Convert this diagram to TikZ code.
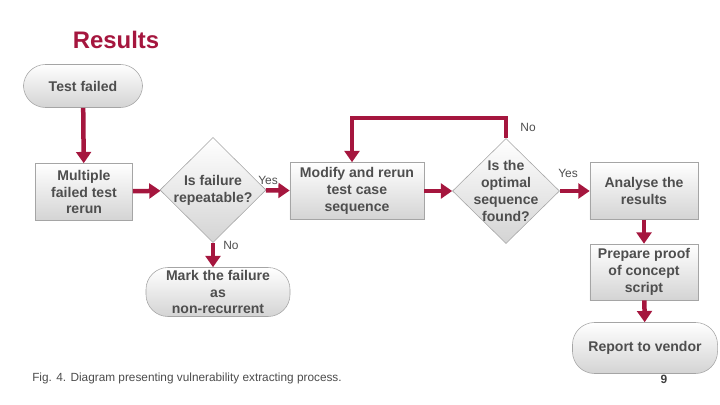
\documentclass[tikz,border=0pt]{standalone}
\usepackage{fontspec}
\setmainfont{Liberation Sans}
\usetikzlibrary{shapes.geometric}
\usetikzlibrary{arrows.meta}
\usetikzlibrary{positioning}

\definecolor{crimson}{RGB}{165,22,62}
\definecolor{boxline}{RGB}{165,165,165}
\definecolor{boxtext}{RGB}{78,78,78}

\begin{document}
\begin{tikzpicture}[x=0.025cm, y=-0.025cm,
  every node/.style={text=boxtext, align=center, inner sep=0pt,
    font=\fontsize{10}{12}\selectfont\bfseries},
  procbox/.style={rectangle, draw=boxline, top color=white, bottom color=black!17},
  endbox/.style={procbox, rounded corners=0.55cm},
  decision/.style={diamond, draw=boxline, top color=white, bottom color=black!17},
  answer/.style={font=\fontsize{8.5}{9}\selectfont},
  flow/.style={draw=crimson, line width=3.2pt, -{Triangle[length=8pt,width=10.5pt]}},
  ]
  \useasboundingbox (0,0) rectangle (720,405);

  \node[font=\fontsize{17}{20}\selectfont\bfseries, text=crimson] (title) at (116,40) {Results};

  \node[endbox, minimum width=2.975cm, minimum height=1.075cm] (start) at (83,86) {Test failed};
  \node[procbox, minimum width=2.425cm, minimum height=1.425cm] (multi) at (84,192) {Multiple\\failed test\\rerun};
  \node[decision, minimum width=2.65cm, minimum height=2.625cm,
    label={[font=\fontsize{10}{12}\selectfont\bfseries, text=boxtext, align=center]center:Is failure\\repeatable?}] (repeat) at (213,190) {};
  \node[procbox, minimum width=3.35cm, minimum height=1.425cm] (modify) at (357,191) {Modify and rerun\\test case\\sequence};
  \node[decision, minimum width=2.675cm, minimum height=2.625cm,
    label={[font=\fontsize{10}{12}\selectfont\bfseries, text=boxtext, align=center]center:Is the\\optimal\\sequence\\found?}] (optim) at (506,191) {};
  \node[procbox, minimum width=2.7cm, minimum height=1.425cm] (analyse) at (644,191) {Analyse the\\results};
  \node[procbox, minimum width=2.7cm, minimum height=1.4cm] (proof) at (644,272) {Prepare proof\\of concept\\script};
  \node[endbox, minimum width=3.625cm, minimum height=1.275cm] (report) at (645,348) {Report to vendor};
  \node[endbox, minimum width=3.6cm, minimum height=1.225cm] (mark) at (218,292) {Mark the failure\\as\\non-recurrent};

  % answers on the branches
  \node[answer] (yes1) at (268,180) {Yes};
  \node[answer] (no1) at (231,245) {No};
  \node[answer] (no2) at (528,127) {No};
  \node[answer] (yes2) at (568,173) {Yes};

  \draw[flow] (start) -- (multi);
  \draw[flow] (multi) -- (repeat);
  \draw[flow] (repeat) -- (modify);
  \draw[flow] (modify) -- (optim);
  \draw[flow] (optim) -- (analyse);
  \draw[flow] (analyse) -- (proof);
  \draw[flow] (proof) -- (report);
  \draw[flow] (repeat.south) -- (repeat.south |- mark.north);
  \draw[flow] (optim.north) -- ++(0,-20) -| ([xshift=-0.125cm]modify.north);

  \node[anchor=west, font=\fontsize{8.4}{9}\selectfont, text=black!70] (caption) at (32,378)
    {Fig. 4. Diagram presenting vulnerability extracting process.};
  \node[font=\fontsize{8.5}{9}\selectfont\bfseries, text=black!75] (page) at (664,379) {9};
\end{tikzpicture}
\end{document}
